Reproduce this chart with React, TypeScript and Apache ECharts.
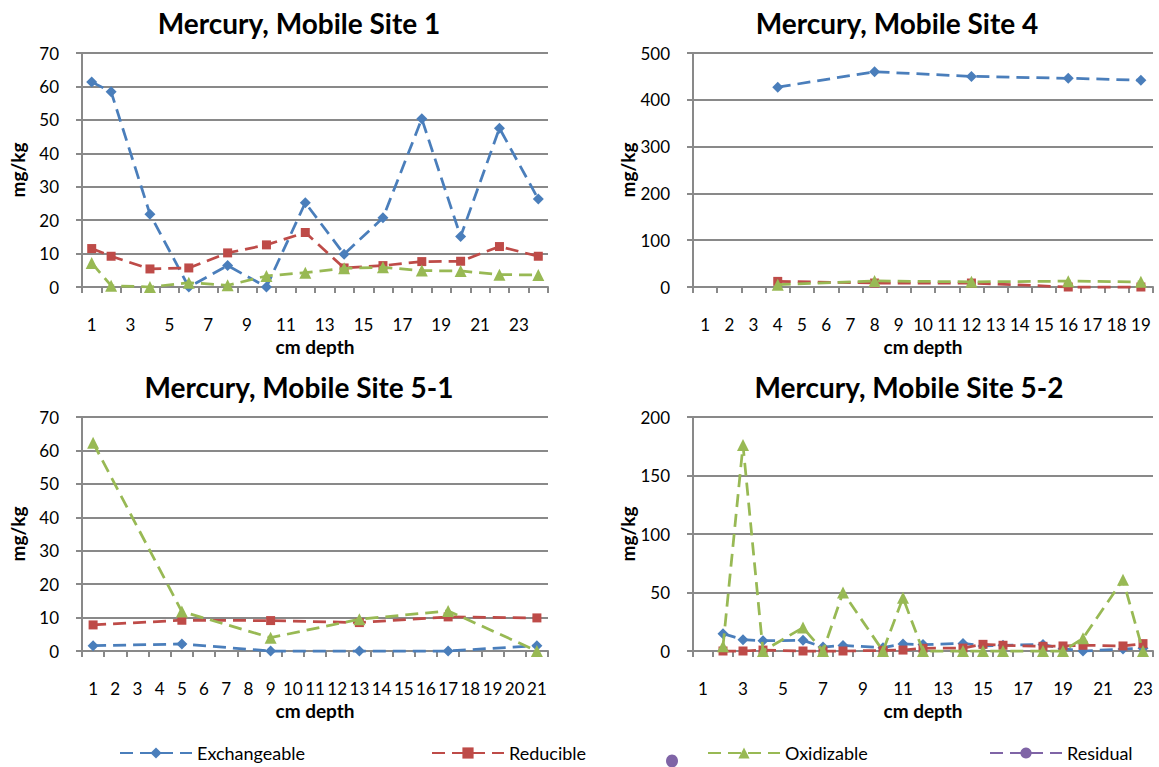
import React, { useEffect, useRef } from "react";
import * as echarts from "echarts";

// ---------- data ----------
const seriesNames = ["Exchangeable", "Reducible", "Oxidizable", "Residual"];
const panelTitles = [
  "Mercury, Mobile Site 1",
  "Mercury, Mobile Site 4",
  "Mercury, Mobile Site 5-1",
  "Mercury, Mobile Site 5-2",
];

const depth1 = ["1","2","3","4","5","6","7","8","9","10","11","12","13","14","15","16","17","18","19","20","21","22","23","24"];
const exch1 = [61.3, 58.4, null, 21.8, null, 0, null, 6.4, null, 0, null, 25.2, null, 9.8, null, 20.7, null, 50.3, null, 15.1, null, 47.5, null, 26.3];
const red1 = [11.5, 9.2, null, 5.4, null, 5.7, null, 10.2, null, 12.6, null, 16.3, null, 5.7, null, 6.4, null, 7.6, null, 7.7, null, 12.1, null, 9.2];
const ox1 = [7.2, 0.4, null, 0, null, 1.3, null, 0.5, null, 3.3, null, 4.3, null, 5.6, null, 5.9, null, 4.9, null, 4.8, null, 3.7, null, 3.6];

const depth4 = ["1","2","3","4","5","6","7","8","9","10","11","12","13","14","15","16","17","18","19"];
const exch4 = [null, null, null, 427, null, null, null, 460, null, null, null, 450, null, null, null, 446, null, null, 442];
const red4 = [null, null, null, 12, null, null, null, 8.5, null, null, null, 8.5, null, null, null, 0, null, null, 0];
const ox4 = [null, null, null, 5, null, null, null, 13, null, null, null, 11, null, null, null, 12.5, null, null, 11];

const depth51 = ["1","2","3","4","5","6","7","8","9","10","11","12","13","14","15","16","17","18","19","20","21"];
const exch51 = [1.6, null, null, null, 2.1, null, null, null, 0, null, null, null, 0, null, null, null, 0, null, null, null, 1.6];
const red51 = [7.8, null, null, null, 9.2, null, null, null, 9.1, null, null, null, 8.5, null, null, null, 10.2, null, null, null, 9.9];
const ox51 = [62.3, null, null, null, 11.8, null, null, null, 4.0, null, null, null, 9.5, null, null, null, 12.0, null, null, null, 0];

const depth52 = ["1","2","3","4","5","6","7","8","9","10","11","12","13","14","15","16","17","18","19","20","21","22","23"];
const exch52 = [null, 14.8, 9.7, 8.8, null, 9.1, 3.4, 4.8, null, 2.8, 6.0, 5.5, null, 6.5, 4.3, 4.9, null, 5.5, 2.0, 0, null, 1.7, 2.3];
const red52 = [null, 0, 0, 0.8, null, 0, 0, 0, null, 0.5, 0.8, 2.3, null, 2.5, 5.7, 4.9, null, 4.0, 4.3, 4.9, null, 4.3, 6.3];
const ox52 = [null, 4, 176, 0, null, 20, 0, 50, null, 0, 45.5, 0, null, 0, 0, 0, null, 0, 0, 10.9, null, 61, 0];

const yMax = [70, 500, 70, 200];
const yStep = [10, 100, 10, 50];
const labelEvery = [1, 0, 0, 1];

// ---------- styling ----------
const FONT = "Lato";
const COLORS = ["#4A7EBB", "#BE4B48", "#98B954", "#7F64A6"];
const SYMBOLS = ["diamond", "rect", "triangle", "circle"];
const SYM_SIZE = [11, 9, 12, 9];
const GRID_COLOR = "#898989";
const DASH = [13, 7];

const grids = [
  { left: 82, top: 53, width: 466, height: 234 },
  { left: 693, top: 53, width: 460, height: 234 },
  { left: 82, top: 417, width: 466, height: 234 },
  { left: 693, top: 417, width: 460, height: 234 },
];
const titlePos = [
  [299, 23],
  [897, 23],
  [299, 387],
  [909, 387],
];

export default function App() {
  const ref = useRef<HTMLDivElement>(null);

  useEffect(() => {
    if (!ref.current) return;
    const chart = echarts.init(ref.current, null, { renderer: "svg" });

    const cats = [depth1, depth4, depth51, depth52];
    const data = [
      [exch1, red1, ox1],
      [exch4, red4, ox4],
      [exch51, red51, ox51],
      [exch52, red52, ox52],
    ];

    const xAxis = cats.map((c, i) => ({
      type: "category",
      gridIndex: i,
      data: c,
      boundaryGap: true,
      axisLine: { show: true, lineStyle: { color: GRID_COLOR, width: 2 } },
      axisTick: { show: true, interval: 0, length: 6, lineStyle: { color: GRID_COLOR, width: 2 } },
      axisLabel: { interval: labelEvery[i], margin: 29, fontSize: 17, color: "#000", fontFamily: FONT },
      splitLine: { show: false },
      name: "cm depth",
      nameLocation: "middle",
      nameGap: 50,
      nameTextStyle: { fontSize: 19, fontWeight: "bold", color: "#000", fontFamily: FONT },
    }));

    const yAxis = cats.map((_, i) => ({
      type: "value",
      gridIndex: i,
      min: 0,
      max: yMax[i],
      interval: yStep[i],
      axisLine: { show: true, lineStyle: { color: GRID_COLOR, width: 2 } },
      axisTick: { show: true, length: 6, lineStyle: { color: GRID_COLOR, width: 2 } },
      axisLabel: { margin: 23, fontSize: 17, color: "#000", fontFamily: FONT },
      splitLine: { show: true, lineStyle: { color: GRID_COLOR, width: 2 } },
      name: "mg/kg",
      nameLocation: "middle",
      nameRotate: 90,
      nameGap: 55,
      nameTextStyle: { fontSize: 19, fontWeight: "bold", color: "#000", fontFamily: FONT },
    }));

    const series: any[] = [];
    data.forEach((panel, p) => {
      panel.forEach((vals, s) => {
        series.push({
          type: "line",
          name: seriesNames[s],
          xAxisIndex: p,
          yAxisIndex: p,
          data: vals,
          connectNulls: true,
          clip: false,
          symbol: SYMBOLS[s],
          symbolSize: SYM_SIZE[s],
          showAllSymbol: true,
          itemStyle: { color: COLORS[s] },
          lineStyle: { color: COLORS[s], width: 2.75, type: DASH },
          z: 2 + s,
        });
      });
    });
    series.push({
      type: "line",
      name: seriesNames[3],
      xAxisIndex: 0,
      yAxisIndex: 0,
      data: [],
      symbol: SYMBOLS[3],
      symbolSize: SYM_SIZE[3],
      itemStyle: { color: COLORS[3] },
      lineStyle: { color: COLORS[3], width: 2.75, type: DASH },
    });

    const legendLeft = [114, 426, 702, 984];
    const legend = seriesNames.map((n, i) => ({
      data: [n],
      left: legendLeft[i],
      top: 739,
      itemWidth: 72,
      itemHeight: 14,
      itemGap: 5,
      textStyle: { fontSize: 18, color: "#000", fontFamily: FONT },
      selectedMode: false,
    }));

    const graphic: any[] = titlePos.map((pos, i) => ({
      type: "text",
      x: pos[0],
      y: pos[1],
      style: {
        text: panelTitles[i],
        fontSize: 28,
        fontWeight: "bold",
        fontFamily: FONT,
        fill: "#000",
        align: "center",
        verticalAlign: "middle",
      },
    }));
    graphic.push({
      type: "ellipse",
      shape: { cx: 672, cy: 761, rx: 6, ry: 6.5 },
      style: { fill: COLORS[3] },
    });

    chart.setOption({
      animation: false,
      backgroundColor: "#fff",
      grid: grids,
      xAxis,
      yAxis,
      series,
      legend,
      graphic,
    });

    return () => chart.dispose();
  }, []);

  return (
    <div
      ref={ref}
      style={{ position: "fixed", left: 0, top: 0, width: 1159, height: 767, background: "#fff" }}
    />
  );
}
